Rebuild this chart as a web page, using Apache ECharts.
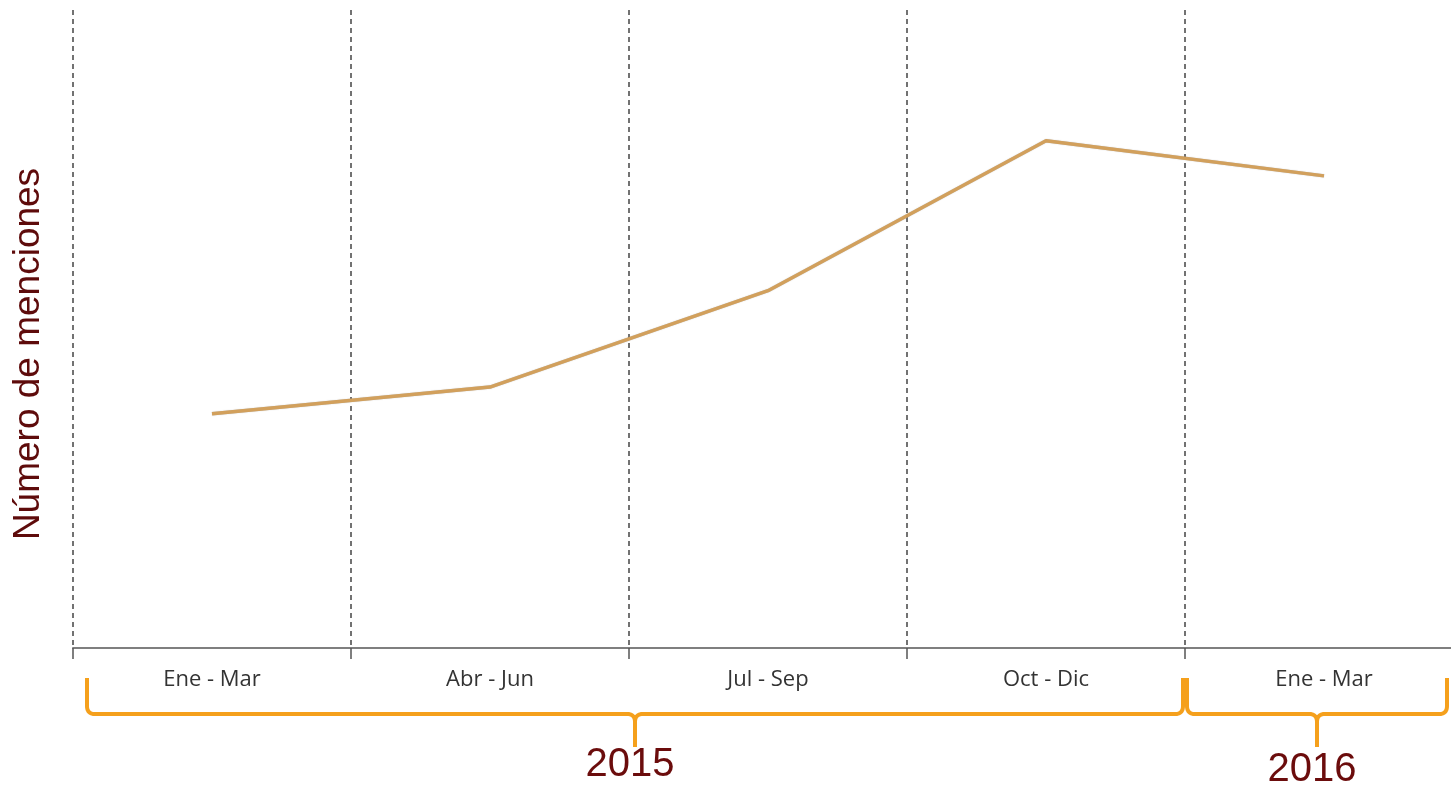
<!DOCTYPE html>
<html>
<head>
<meta charset="utf-8">
<script src="https://cdn.jsdelivr.net/npm/echarts@6/dist/echarts.min.js"></script>
<style>
  html, body { margin: 0; padding: 0; background: #fff; }
  #chart { width: 1451px; height: 787px; }
</style>
</head>
<body>
<div id="chart"></div>
<script>
// trimestres
const categories = ['Ene - Mar', 'Abr - Jun', 'Jul - Sep', 'Oct - Dic', 'Ene - Mar']
// número de menciones (escala relativa, sin etiquetas en el eje)
const mentions = [36.7, 40.9, 56.0, 79.5, 74.0]
// años y el rango de trimestres que abarca cada llave
const years = ['2015', '2016']
const yearFrom = [0, 4]
const yearTo = [3, 4]

const chart = echarts.init(document.getElementById('chart'))

const option = {
  animation: false,
  grid: { left: 73, right: -12, top: 10, bottom: 139, outerBoundsMode: 'none', containLabel: false },
  xAxis: {
    type: 'category',
    data: categories,
    boundaryGap: true,
    axisLine: { lineStyle: { color: '#7f7f7f', width: 2 } },
    axisTick: { show: true, length: 11, lineStyle: { color: '#555', width: 1.5 } },
    axisLabel: {
      margin: 21,
      fontSize: 22,
      color: '#333',
      fontFamily: 'Open Sans'
    },
    splitLine: {
      show: true,
      lineStyle: { color: '#444', type: [5, 4], width: 1.5 }
    }
  },
  yAxis: {
    type: 'value',
    min: 0,
    max: 100,
    name: 'Número de menciones',
    nameLocation: 'middle',
    nameGap: 26,
    nameTextStyle: { color: '#5e0b0b', fontSize: 37, fontFamily: 'Liberation Sans', padding: [0, 50, 0, 0] },
    axisLine: { show: false },
    axisTick: { show: false },
    axisLabel: { show: false },
    splitLine: { show: false }
  },
  series: [{
    type: 'line',
    data: mentions,
    symbol: 'none',
    lineStyle: { color: '#d2a05c', width: 3.5, shadowColor: 'rgba(120,120,120,0.5)', shadowBlur: 1 }
  }]
}
chart.setOption(option)

// puntos de una curva cuadrática (para las esquinas redondeadas de la llave)
function quad (p0, c, p1, pts) {
  for (let t = 0.1; t <= 1.0001; t += 0.1) {
    const u = 1 - t
    pts.push([u * u * p0[0] + 2 * u * t * c[0] + t * t * p1[0],
              u * u * p0[1] + 2 * u * t * c[1] + t * t * p1[1]])
  }
}

// llaves de los años debajo de las etiquetas
const c0 = chart.convertToPixel({ xAxisIndex: 0 }, 0)
const c1 = chart.convertToPixel({ xAxisIndex: 0 }, 1)
const half = (c1 - c0) / 2
const yTop = 678, yMid = 714, yTip = 747, r = 8
const graphics = []
years.forEach((year, i) => {
  const x0 = chart.convertToPixel({ xAxisIndex: 0 }, yearFrom[i]) - half + (i === 0 ? 14 : 2)
  const x1 = chart.convertToPixel({ xAxisIndex: 0 }, yearTo[i]) + half - (i === 0 ? 2 : 16)
  const tip = (x0 + x1) / 2
  const pts = [[x0, yTop], [x0, yMid - r]]
  quad([x0, yMid - r], [x0, yMid], [x0 + r, yMid], pts)
  pts.push([tip - r, yMid])
  quad([tip - r, yMid], [tip, yMid], [tip, yMid + r], pts)
  pts.push([tip, yTip])
  const back = [[tip, yMid + r]]
  quad([tip, yMid + r], [tip, yMid], [tip + r, yMid], back)
  back.push([x1 - r, yMid])
  quad([x1 - r, yMid], [x1, yMid], [x1, yMid - r], back)
  back.push([x1, yTop])
  graphics.push({
    type: 'polyline',
    shape: { points: pts },
    style: { fill: null, stroke: '#f5a01c', lineWidth: 4, lineJoin: 'round' }
  })
  graphics.push({
    type: 'polyline',
    shape: { points: back },
    style: { fill: null, stroke: '#f5a01c', lineWidth: 4, lineJoin: 'round' }
  })
  graphics.push({
    type: 'text',
    x: tip - 5,
    y: i === 0 ? 765 : 770,
    style: {
      text: year,
      fill: '#6b0c0c',
      fontSize: 40,
      fontFamily: 'Liberation Sans',
      align: 'center',
      verticalAlign: 'middle'
    }
  })
})
chart.setOption({ graphic: graphics })
</script>
</body>
</html>
